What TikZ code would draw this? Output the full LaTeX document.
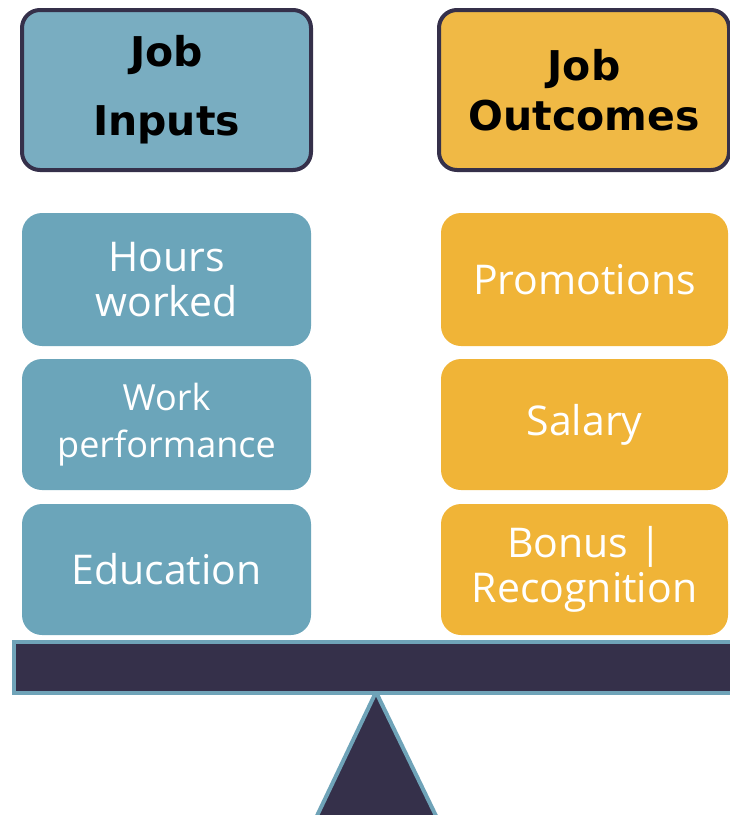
\documentclass[tikz,border=0pt]{standalone}
\usepackage{fontspec}
\newfontfamily\hdfont{DejaVu Sans}
\newfontfamily\bdfont{Open Sans}
\definecolor{inhead}{HTML}{79ADC1}
\definecolor{inbody}{HTML}{6BA5BA}
\definecolor{outhead}{HTML}{F0B945}
\definecolor{outbody}{HTML}{F0B437}
\definecolor{darkline}{HTML}{35304A}
\definecolor{lightline}{HTML}{6FA3B8}
\begin{document}
\begin{tikzpicture}[x=1pt,y=-1pt,
  headbox/.style={draw=darkline,line width=4pt,rounded corners=18pt,
    minimum height=160pt,inner sep=0pt,align=center,text=black,
    font=\hdfont\bfseries\fontsize{41}{69}\selectfont},
  bodybox/.style={rounded corners=20pt,inner sep=0pt,align=center,
    text=white,font=\bdfont\fontsize{41}{45}\selectfont},
  inbox/.style={bodybox,fill=inbody,minimum width=289pt},
  outbox/.style={bodybox,fill=outbody,minimum width=287pt}]
\useasboundingbox (0,0) rectangle (730,815);
\node[headbox,fill=inhead,minimum width=289pt] (hin) at (166.5,90) {Job\\Inputs};
\node[headbox,fill=outhead,minimum width=290pt,
  font=\hdfont\bfseries\fontsize{41}{50}\selectfont] (hout) at (584,90) {Job\\Outcomes};
\node[inbox,minimum height=133pt] (hours) at (166.5,279.5) {Hours\\worked};
\node[inbox,minimum height=131pt,font=\bdfont\fontsize{36}{47}\selectfont] (perf) at (166.5,424.5) {Work\\performance};
\node[inbox,minimum height=131pt] (edu) at (166.5,569.5) {Education};
\node[outbox,minimum height=133pt] (promo) at (584.5,279.5) {Promotions};
\node[outbox,minimum height=131pt] (sal) at (584.5,424.5) {Salary};
\node[outbox,minimum height=131pt] (bonus) at (584.5,569.5) {Bonus |\\Recognition};
\draw[fill=darkline,draw=lightline,line width=4pt,line join=miter]
  (376,692) -- (438,820) -- (315,820) -- cycle;
\draw[fill=darkline,draw=lightline,line width=4pt] (14,642) rectangle (740,693);
\end{tikzpicture}
\end{document}
